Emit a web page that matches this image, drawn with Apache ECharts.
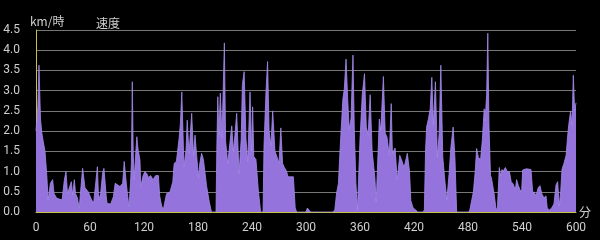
<!DOCTYPE html>
<html>
<head>
<meta charset="utf-8">
<script src="https://cdn.jsdelivr.net/npm/echarts@6/dist/echarts.min.js"></script>
<style>
html,body{margin:0;padding:0;background:#000;}
#chart{width:600px;height:240px;}
</style>
</head>
<body>
<div id="chart"></div>
<script>
const seriesName = '速度';
const yUnit = 'km/時';
const xUnit = '分';
const minutes = [0,2,3.3,5,6.5,8,10,12,13.5,16,18.5,20,23,25,29,31.5,33.3,35,37,39.3,40.7,42.6,44,46,48,50,51.8,54.4,56,58,61.8,64,66.7,68.2,69.6,71.8,74,75.5,77,78,79,83,86,88,90,93.3,96.3,98,100,101.5,103.3,105,106,107,108,109,112,113.5,115.5,116.5,119,121,123,125,127.4,130,133,136,137.4,139.6,141.5,143,145,149,152,153.5,156,159,160.5,162,164.4,166.7,168,170,173,175,176.7,178.5,180.5,182,184,186,189.5,192.5,195,200,201,202,203.3,204.8,206.7,209.3,210.7,213,215,217.5,219.3,221,223,225.6,228,229.3,231.3,233.3,235.3,237.8,239.6,240.7,242,244.4,247,249.6,252.3,253.3,255.5,257.3,259,261,263,265.5,268,270,272,274,276,278.5,280,286,288,289.6,300,301.5,303.5,305,330,332,334,336,338,341,342.6,344.5,346.3,348,350,352.2,353.7,355.5,357.2,358.5,360,362.5,365,367,369,371.3,373.5,376.5,378,379.6,381.5,383,386,388,390,392.5,394.7,396,398,399,401.3,404.2,406,409,412.6,415,416.5,419,422,424,430,431.5,432.8,434,436,438,439.8,441.5,443.8,446,448,449.8,452,454.4,456.5,459,461,463.5,465.5,467.4,481,482,486,488,489.6,491.5,494,496,498,499,500.7,502,503.3,505,506,509,511,512.6,514.8,516,517.8,519,521.5,523.7,526,528,530,532.6,534,536,537.8,539.6,540.7,545,550,552,553.3,555.6,558,560,562,564.4,566.7,568,570.4,573,575.5,577.8,579.6,581.5,583,584.4,586.6,589,591,592.2,594,595.6,597,598.5,600];
const speed = [2.0,2.6,3.63,2.3,1.95,1.75,1.5,0.9,0.3,0.71,0.8,0.46,0.34,0.3,0.3,0.79,1.0,0.46,0.42,0.75,0.42,0.8,0.45,0.35,0.09,0.63,1.08,0.6,0.6,0.5,0.3,0.21,0.79,1.12,0.3,0.45,0.96,1.08,1.05,0.4,0.21,0.2,0.38,0.71,0.67,0.63,0.71,1.25,0.79,0.46,0.13,0.71,1.2,3.22,1.5,0.8,1.86,1.53,1.29,0.63,0.9,1.0,0.95,0.85,0.9,0.8,0.9,0.9,0.4,0.15,0.06,0.1,0.45,0.5,0.75,1.2,1.25,1.82,2.2,2.97,1.12,1.53,2.27,1.45,2.44,1.4,1.9,1.4,0.85,1.2,1.45,1.3,0.65,0.25,0,0,1.7,2.85,1.9,2.94,1.85,4.18,1.75,1.2,1.2,2.13,1.5,1.9,2.44,0.95,1.8,3.15,3.47,1.8,1.25,2.97,1.5,2.6,1.37,1.3,0.54,0,0,1.6,2.95,3.72,2.0,1.65,2.5,1.5,1.35,1.2,2.08,1.2,1.1,1.0,0.87,0.87,0.1,0,0,0.1,0.1,0,0,0.05,0.47,0.7,1.6,2.8,3.05,3.78,2.8,2.05,2.3,3.88,2.0,0.7,0.05,0.05,1.8,2.9,3.42,2.1,1.9,2.9,1.5,0.85,0.25,1.2,2.3,2.0,3.35,1.95,1.85,1.4,2.68,1.45,1.45,1.58,0.8,1.4,1.3,1.1,1.45,1.0,0.28,0.1,0.05,0,0,0.05,1.5,2.1,2.3,2.55,3.33,2.15,3.22,1.35,1.95,3.63,1.35,0.75,0.3,0.95,1.6,2.1,1.33,0,0,0.05,0.5,1.0,1.57,1.35,1.3,1.8,2.55,2.25,2.9,4.42,2.15,0.9,0.85,0.45,0.1,0.05,1.1,0.9,1.05,1.0,1.1,1.0,1.0,0.75,0.7,0.55,0.8,0.65,0.55,0.5,1.04,1.07,1.05,0.45,0.5,0.4,0.6,0.65,0.45,0.35,0.4,0.1,0.05,0.1,0.2,0.67,0.75,0.15,0.5,1.05,1.2,1.4,1.95,2.2,2.5,2.15,3.38,2.5,2.7];
const xTicks = {min: 0, max: 600, interval: 60};
const yTicks = {min: 0, max: 4.5, interval: 0.5};

const data = minutes.map((m, i) => [m, speed[i]]);
const chart = echarts.init(document.getElementById('chart'), null, {renderer: 'canvas'});
const labelColor = '#cfcfcf';
const font = 'Roboto, "Noto Sans CJK JP", sans-serif';
const cjk = '"Noto Sans CJK JP", sans-serif';
chart.setOption({
  backgroundColor: '#000',
  animation: false,
  textStyle: {fontFamily: font},
  grid: {left: 36, right: 24, top: 30, bottom: 28},
  legend: {
    data: [{name: seriesName, icon: 'none'}],
    left: 86, top: 11,
    itemWidth: 0, itemGap: 0,
    textStyle: {color: labelColor, fontSize: 12, fontFamily: cjk}
  },
  xAxis: {
    type: 'value', min: xTicks.min, max: xTicks.max, interval: xTicks.interval,
    name: xUnit, nameLocation: 'end', nameGap: 3,
    nameTextStyle: {color: labelColor, fontSize: 12, fontFamily: cjk, padding: [0, 0, 6, 0]},
    axisLine: {show: true, lineStyle: {color: '#c8c04a', width: 1}},
    axisTick: {show: false},
    axisLabel: {color: labelColor, fontSize: 12, margin: 10, fontFamily: font},
    splitLine: {show: false}
  },
  yAxis: {
    type: 'value', min: yTicks.min, max: yTicks.max, interval: yTicks.interval,
    name: yUnit, nameLocation: 'end', nameGap: 3,
    nameTextStyle: {color: labelColor, fontSize: 12, align: 'left', fontFamily: cjk, padding: [0, 0, 0, -6]},
    axisLine: {show: true, lineStyle: {color: '#c8c04a', width: 1}},
    axisTick: {show: false},
    axisLabel: {color: labelColor, fontSize: 12, margin: 16, fontFamily: font, formatter: v => v.toFixed(1)},
    splitLine: {show: true, lineStyle: {color: '#777', width: 1}}
  },
  series: [{
    name: seriesName,
    type: 'line',
    data: data,
    showSymbol: false,
    symbol: 'none',
    lineStyle: {color: '#a58bea', width: 0.8},
    itemStyle: {color: '#9474dc'},
    areaStyle: {color: '#9474dc', opacity: 1}
  }]
});
</script>
</body>
</html>
